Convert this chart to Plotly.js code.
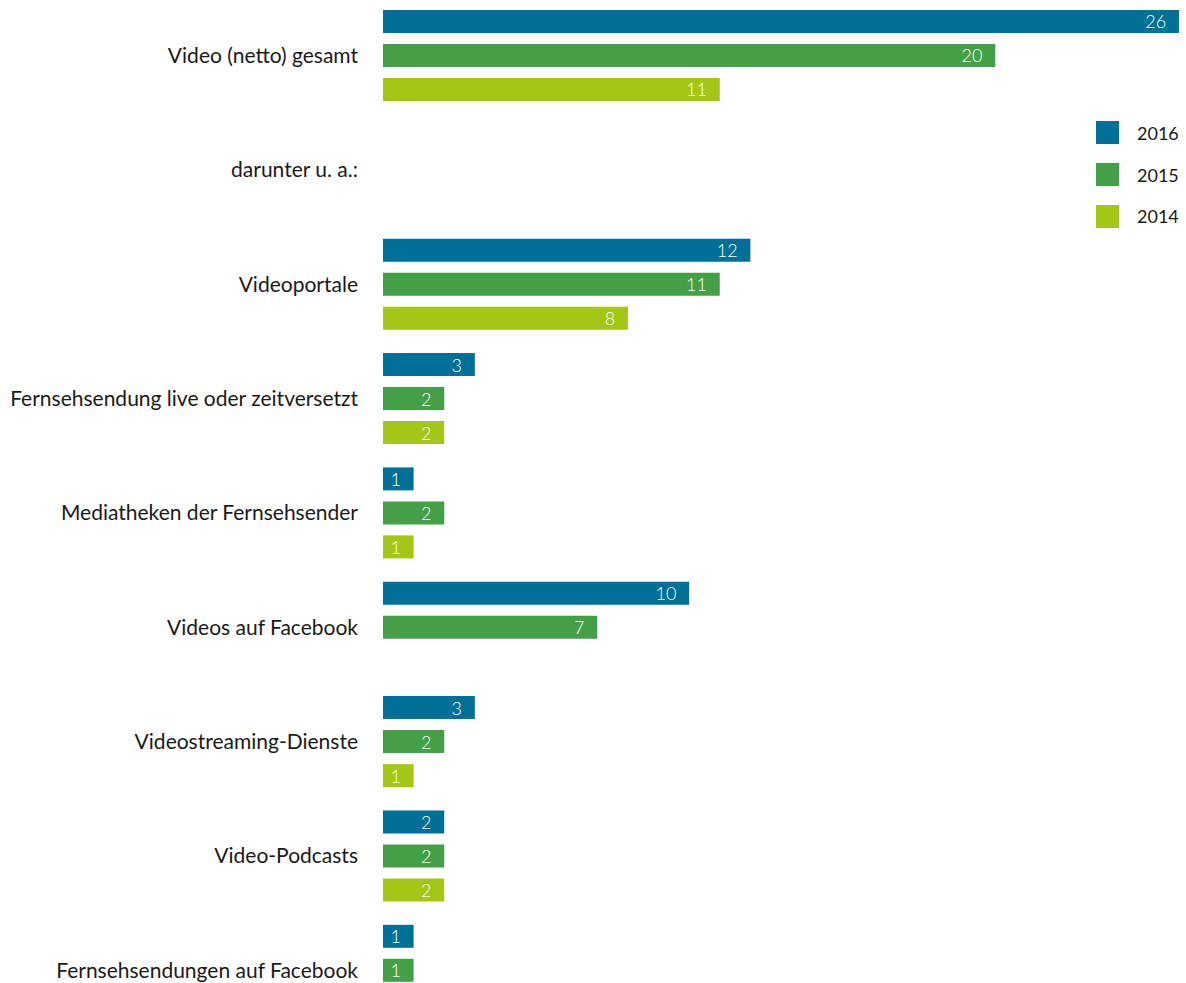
<!DOCTYPE html>
<html>
<head>
<meta charset="utf-8">
<script src="https://cdn.plot.ly/plotly-3.0.1.min.js"></script>
<style>html,body{margin:0;padding:0;background:#fff;}#chart{width:1186px;height:983px;}</style>
</head>
<body>
<div id="chart"></div>
<script>
// ---- data ----
var categories = ['Video (netto) gesamt', 'darunter u. a.:', 'Videoportale',
  'Fernsehsendung live oder zeitversetzt', 'Mediatheken der Fernsehsender',
  'Videos auf Facebook', 'Videostreaming-Dienste', 'Video-Podcasts',
  'Fernsehsendungen auf Facebook'];
var seriesNames = ['2016', '2015', '2014'];
var values2016 = [26, null, 12, 3, 1, 10, 3, 2, 1];
var values2015 = [20, null, 11, 2, 2, 7, 2, 2, 1];
var values2014 = [11, null, 8, 2, 1, null, 1, 2, null];
var seriesColors = ['#007096', '#43a047', '#a3c617'];

// ---- layout constants ----
var W = 1186, H = 983, ML = 383;
var FONT = 'Lato, "Open Sans", sans-serif';
var seriesValues = [values2016, values2015, values2014];

var traces = seriesValues.map(function (vals, i) {
  return {
    type: 'bar', orientation: 'h', name: seriesNames[i],
    y: categories, x: vals,
    marker: {color: seriesColors[i], line: {width: 0}},
    texttemplate: '%{x}\u00a0\u00a0',
    textposition: 'inside', insidetextanchor: 'end', constraintext: 'none',
    textangle: 0,
    textfont: {family: FONT, size: 18, color: '#ffffff', weight: 300},
    hoverinfo: 'skip', showlegend: false
  };
});

function px2x(p) { return (p - ML) / (W - ML); }
function px2y(p) { return 1 - p / H; }

var shapes = [], annotations = [];
var legendTop = [121, 163, 205];
seriesNames.forEach(function (n, i) {
  shapes.push({type: 'rect', xref: 'paper', yref: 'paper',
    x0: px2x(1096), x1: px2x(1119), y0: px2y(legendTop[i] + 23), y1: px2y(legendTop[i]),
    fillcolor: seriesColors[i], line: {width: 0}});
  annotations.push({xref: 'paper', yref: 'paper', x: px2x(1135), y: px2y(legendTop[i] + 11.5),
    xanchor: 'left', yanchor: 'middle', showarrow: false, text: n,
    font: {family: FONT, size: 18, color: '#1a1a1a', weight: 400}});
});

var layout = {
  width: W, height: H,
  margin: {l: ML, r: 0, t: 0, b: 0, pad: 0},
  paper_bgcolor: '#ffffff', plot_bgcolor: '#ffffff',
  barmode: 'group', bargap: 0.108, bargroupgap: 0.324,
  showlegend: false,
  xaxis: {range: [0, 26.23], visible: false, fixedrange: true},
  yaxis: {type: 'category', range: [8.111, -0.4853], showgrid: false, zeroline: false,
    showline: false, ticks: '', ticklabelstandoff: 24,
    tickfont: {family: FONT, size: 21, color: '#1a1a1a', weight: 400}, fixedrange: true},
  shapes: shapes, annotations: annotations,
  font: {family: FONT}
};

Plotly.newPlot('chart', traces, layout, {displayModeBar: false, staticPlot: true});
</script>
</body>
</html>
